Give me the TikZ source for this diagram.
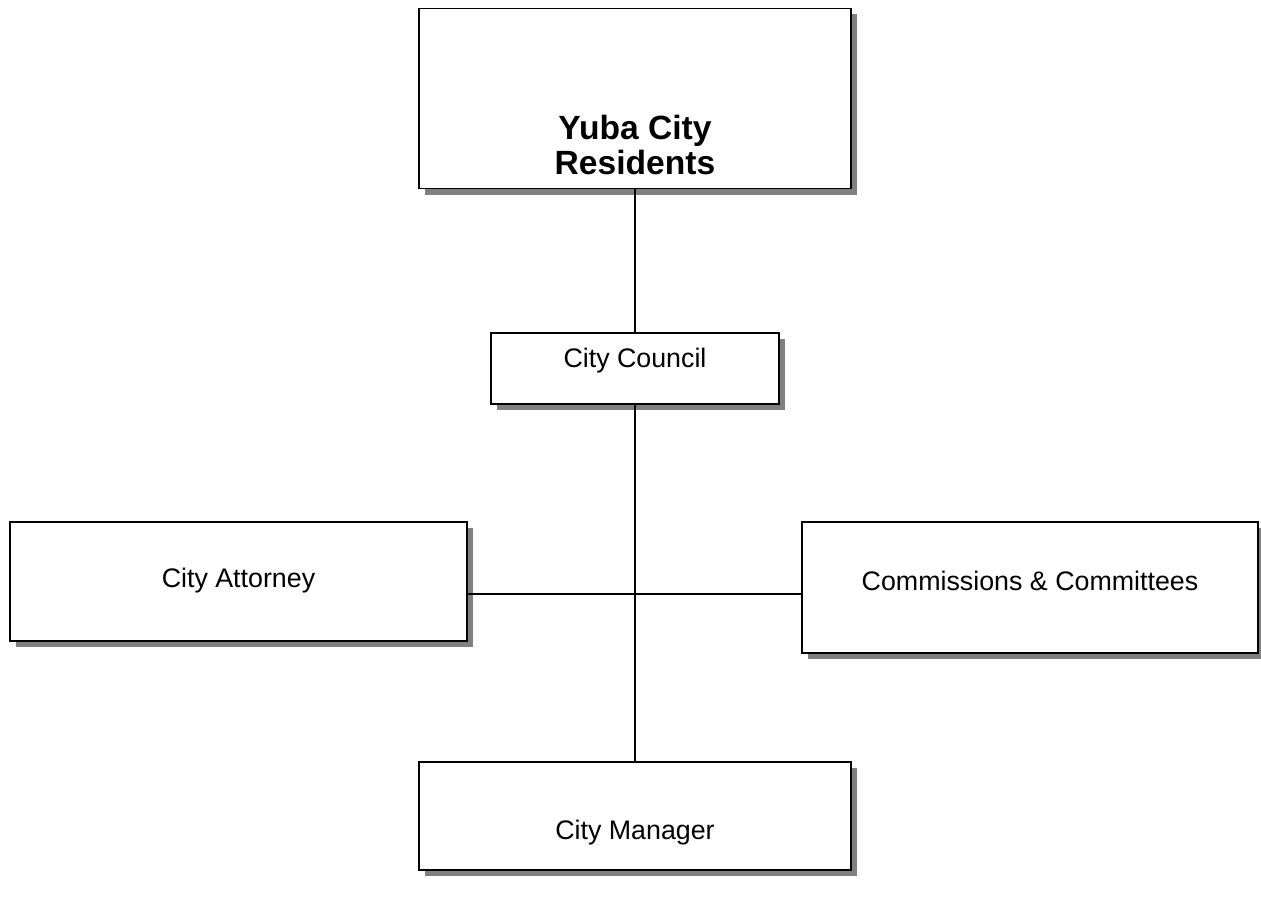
\documentclass[tikz,border=0pt]{standalone}
\usepackage{fontspec}
\setmainfont{Liberation Sans}
\usetikzlibrary{shadows}
\begin{document}
\begin{tikzpicture}[x=1pt,y=-1pt,
  box/.style={draw=black, line width=1.8pt, fill=white, rectangle, inner sep=0pt, outer sep=0pt,
    drop shadow={shadow xshift=6pt, shadow yshift=-6pt, fill=black!50, opacity=1}},
  lbl/.style={font=\fontsize{26.8}{32}\selectfont, inner sep=0pt, align=center},
  blbl/.style={font=\fontsize{33.6}{35}\selectfont\bfseries, inner sep=0pt, align=center},
  conn/.style={draw=black, line width=1.4pt}]
\useasboundingbox (0,0) rectangle (1261,899);
\node[box, minimum width=432, minimum height=180] (res) at (635,98.5) {};
\node[box, minimum width=288, minimum height=71] (cou) at (635,368.5) {};
\node[box, minimum width=457, minimum height=119] (att) at (238.5,581.5) {};
\node[box, minimum width=456, minimum height=131] (com) at (1030,587.5) {};
\node[box, minimum width=432, minimum height=108] (man) at (635,816) {};
\node[blbl] (resT) at (635,145) {Yuba City\\Residents};
\node[lbl] (couT) at (635,361) {City Council};
\node[lbl] (attT) at (238.5,581) {City Attorney};
\node[lbl] (comT) at (1030,581) {Commissions \& Committees};
\node[lbl] (manT) at (635,833) {City Manager};
\coordinate (h) at (635,594);
\draw[conn] (res.south) -- (cou.north);
\draw[conn] (cou.south) -- (man.north);
\draw[conn] (att.east |- h) -- (com.west |- h);
\end{tikzpicture}
\end{document}
